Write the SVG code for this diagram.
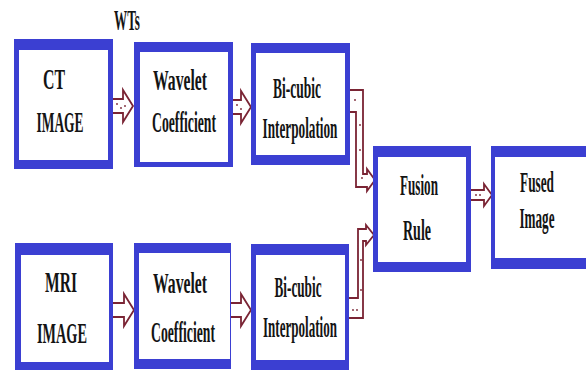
<svg xmlns="http://www.w3.org/2000/svg" width="586" height="372" viewBox="0 0 586 372">
  <style>
    .frame { fill: #3b3fd2; }
    .inner { fill: #ffffff; }
    .lbl { font-family: "Liberation Serif", "Times New Roman", serif; font-weight: bold; font-size: 30px; fill: #141414; text-anchor: middle; font-variant-ligatures: none; }
    .arrow { fill: #ffffff; stroke: #7a2434; stroke-width: 1.8; stroke-linejoin: miter; }
    .dot { fill: #7a2434; }
  </style>
  <rect width="586" height="372" fill="#ffffff"/>

  <!-- block arrows -->
  <g id="connectors">
    <path class="arrow" d="M110,99 H123 V90 L133,106 L123,122 V113 H110 Z"/>
    <path class="arrow" d="M230,100 H241 V91 L251,107 L241,123 V114 H230 Z"/>
    <path class="arrow" d="M110,303 H124 V294 L134,310 L124,326 V317 H110 Z"/>
    <path class="arrow" d="M228,303 H241 V294 L251,310 L241,326 V317 H228 Z"/>
    <path class="arrow" d="M347,90 H363 V174 H367 V169 L375,180 L367,191 V187 H356 V112 H347 Z"/>
    <path class="arrow" d="M347,318 H363 V241 H366 V245 L374,235 L366,225 V229 H358 V298 H347 Z"/>
    <path class="arrow" d="M468,190 H484 V184 L492,195 L484,206 V200 H468 Z"/>
    <circle class="dot" cx="117" cy="104" r="0.9"/><circle class="dot" cx="121" cy="108" r="0.9"/><circle class="dot" cx="125" cy="106" r="0.9"/>
    <circle class="dot" cx="237" cy="105" r="0.9"/><circle class="dot" cx="241" cy="109" r="0.9"/>
    <circle class="dot" cx="355" cy="100" r="0.9"/><circle class="dot" cx="360" cy="125" r="0.9"/><circle class="dot" cx="360" cy="150" r="0.9"/><circle class="dot" cx="362" cy="178" r="0.9"/>
    <circle class="dot" cx="361" cy="260" r="0.9"/><circle class="dot" cx="361" cy="290" r="0.9"/><circle class="dot" cx="353" cy="310" r="0.9"/><circle class="dot" cx="357" cy="310" r="0.9"/>
    <circle class="dot" cx="476" cy="195" r="0.9"/><circle class="dot" cx="480" cy="195" r="0.9"/>
  </g>

  <text class="lbl" transform="translate(127,30) scale(0.438,1)">WTs</text>

  <g id="ct-image">
    <rect class="frame" x="14" y="39" width="99" height="130"/>
    <rect class="inner" x="19" y="50" width="89" height="110"/>
    <text class="lbl" transform="translate(54,89) scale(0.528,1)">CT</text>
    <text class="lbl" transform="translate(60,132) scale(0.448,1)">IMAGE</text>
  </g>

  <g id="wavelet-top">
    <rect class="frame" x="134" y="42" width="99" height="125"/>
    <rect class="inner" x="140" y="52" width="88" height="110"/>
    <text class="lbl" transform="translate(180,90) scale(0.524,1)">Wavelet</text>
    <text class="lbl" transform="translate(184,132) scale(0.457,1)">Coefficient</text>
  </g>

  <g id="bicubic-top">
    <rect class="frame" x="251" y="43" width="99" height="122"/>
    <rect class="inner" x="256" y="53" width="89" height="102"/>
    <text class="lbl" transform="translate(297,98) scale(0.45,1)">Bi-cubic</text>
    <text class="lbl" transform="translate(300,138) scale(0.441,1)">Interpolation</text>
  </g>

  <g id="mri-image">
    <rect class="frame" x="15" y="243" width="98" height="127"/>
    <rect class="inner" x="21" y="255" width="88" height="107"/>
    <text class="lbl" transform="translate(61,292) scale(0.519,1)">MRI</text>
    <text class="lbl" transform="translate(62,343) scale(0.476,1)">IMAGE</text>
  </g>

  <g id="wavelet-bottom">
    <rect class="frame" x="134" y="243" width="97" height="126"/>
    <rect class="inner" x="139" y="253" width="91" height="106"/>
    <text class="lbl" transform="translate(180,293) scale(0.524,1)">Wavelet</text>
    <text class="lbl" transform="translate(183,342) scale(0.457,1)">Coefficient</text>
  </g>

  <g id="bicubic-bottom">
    <rect class="frame" x="251" y="244" width="98" height="126"/>
    <rect class="inner" x="256" y="255" width="89" height="105"/>
    <text class="lbl" transform="translate(298,297) scale(0.441,1)">Bi-cubic</text>
    <text class="lbl" transform="translate(300,337) scale(0.435,1)">Interpolation</text>
  </g>

  <g id="fusion-rule">
    <rect class="frame" x="373" y="146" width="98" height="126"/>
    <rect class="inner" x="378" y="157" width="88" height="105"/>
    <text class="lbl" transform="translate(419,195) scale(0.438,1)">Fusion</text>
    <text class="lbl" transform="translate(417,240) scale(0.467,1)">Rule</text>
  </g>

  <g id="fused-image">
    <rect class="frame" x="491" y="146" width="95" height="123"/>
    <rect class="inner" x="495" y="157" width="91" height="101"/>
    <text class="lbl" transform="translate(537,192) scale(0.443,1)">Fused</text>
    <text class="lbl" transform="translate(537,228) scale(0.438,1)">Image</text>
  </g>
</svg>
